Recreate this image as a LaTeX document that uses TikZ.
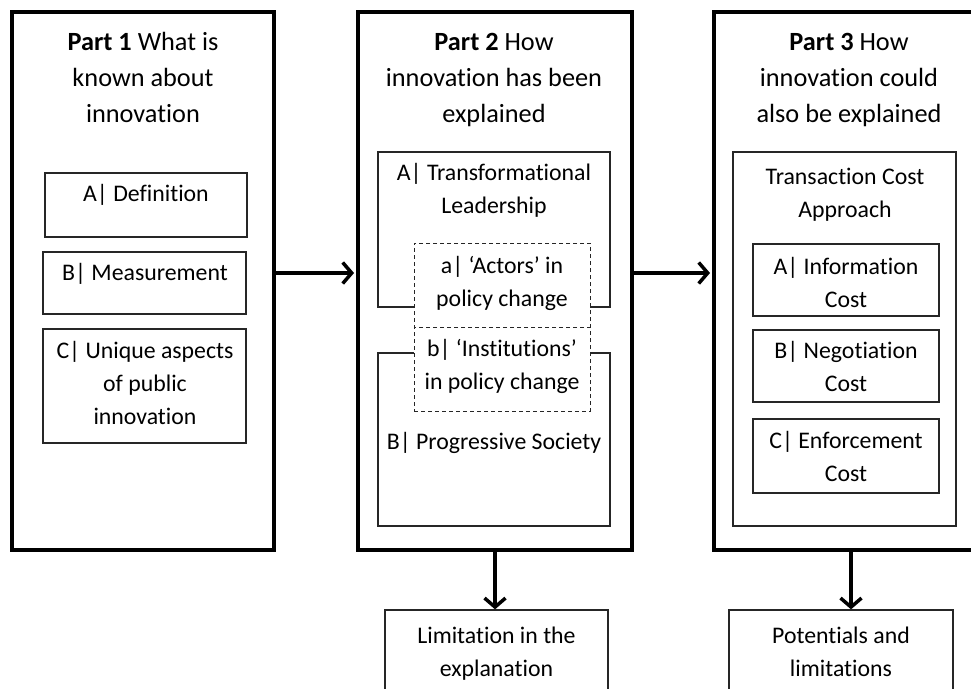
\documentclass[tikz,border=0pt]{standalone}
\usepackage{fontspec}
\setmainfont[Ligatures=NoCommon]{Carlito}
\usetikzlibrary{arrows.meta}

\begin{document}
\begin{tikzpicture}[x=1pt,y=-1pt,
  part/.style={draw, line width=4pt, fill=white, inner sep=0pt},
  sub/.style={draw, black!85, line width=1.3pt, inner sep=0pt},
  dashbox/.style={draw, black!85, line width=1pt, dash pattern=on 4pt off 3pt, fill=white, inner sep=0pt},
  heading/.style={align=center, inner sep=0pt, font=\fontsize{26.3}{36}\selectfont},
  txt/.style={align=center, inner sep=0pt, font=\fontsize{23.8}{33}\selectfont},
  arr/.style={line width=3.5pt, -{Straight Barb[length=9pt,width=21pt]}}
]
\clip (0,0) rectangle (971,688);

% three main parts
\node[part, minimum width=262pt, minimum height=538pt] (p1) at (143,281) {};
\node[part, minimum width=274pt, minimum height=538pt] (p2) at (495,281) {};
\node[part, minimum width=274pt, minimum height=538pt] (p3) at (851,281) {};

% outcome boxes below parts 2 and 3
\node[sub, minimum width=223pt, minimum height=110pt] (lim) at (496.5,665) {};
\node[sub, minimum width=224pt, minimum height=110pt] (pot) at (841,665) {};

% connectors
\draw[arr, shorten >=2pt] ([yshift=8pt]p1.east) -- ([yshift=8pt]p2.west);
\draw[arr, shorten >=2pt] ([yshift=8pt]p2.east) -- ([yshift=8pt]p3.west);
\draw[arr] (p2.south) -- (p2.south |- lim.north);
\draw[arr] (p3.south) -- (p3.south |- pot.north);

% part 1 contents
\node[sub, minimum width=202pt, minimum height=64pt] (defn) at (146,205) {};
\node[sub, minimum width=203pt, minimum height=62pt] (meas) at (144.5,283) {};
\node[sub, minimum width=203pt, minimum height=114pt] (uniq) at (144.5,386) {};

% part 2 contents
\node[sub, minimum width=232pt, minimum height=155pt] (lead) at (494,229.5) {};
\node[sub, minimum width=232pt, minimum height=173pt] (prog) at (494,439.5) {};
\node[dashbox, minimum width=176pt, minimum height=84pt] (actors) at (502,285) {};
\node[dashbox, minimum width=176pt, minimum height=84pt] (inst) at (502,369) {};

% part 3 contents
\node[sub, minimum width=223pt, minimum height=374pt] (tca) at (844.5,339) {};
\node[sub, minimum width=186pt, minimum height=72pt] (info) at (846,280) {};
\node[sub, minimum width=186pt, minimum height=72pt] (nego) at (846,366) {};
\node[sub, minimum width=186pt, minimum height=74pt] (enf) at (846,456) {};

% texts
\node[heading] (h1) at (143,79) {\strut\textbf{Part 1} What is\\\strut known about\\\strut innovation};
\node[heading] (h2) at (494,79) {\strut\textbf{Part 2} How\\\strut innovation has been\\\strut explained};
\node[heading] (h3) at (849,79) {\strut\textbf{Part 3} How\\\strut innovation could\\\strut also be explained};

\node[txt] (tdefn) at (146,195) {\strut A| Definition};
\node[txt] (tmeas) at (145,274) {\strut B| Measurement};
\node[txt] (tuniq) at (145,385) {\strut C| Unique aspects\\\strut of public\\\strut innovation};

\node[txt] (tlead) at (494,190.5) {\strut A| Transformational\\\strut Leadership};
\node[txt] (tactors) at (502,283) {\strut a| ‘Actors’ in\\\strut policy change};
\node[txt] (tinst) at (502,366.5) {\strut b| ‘Institutions’\\\strut in policy change};
\node[txt] (tprog) at (494,443) {\strut B| Progressive Society};

\node[txt] (ttca) at (845,194.5) {\strut Transaction Cost\\\strut Approach};
\node[txt] (tinfo) at (846,284) {\strut A| Information\\\strut Cost};
\node[txt] (tnego) at (846,368.5) {\strut B| Negotiation\\\strut Cost};
\node[txt] (tenf) at (846,458.5) {\strut C| Enforcement\\\strut Cost};

\node[txt] (tlim) at (496.5,653.5) {\strut Limitation in the\\\strut explanation};
\node[txt] (tpot) at (841,653.5) {\strut Potentials and\\\strut limitations};
\end{tikzpicture}
\end{document}
